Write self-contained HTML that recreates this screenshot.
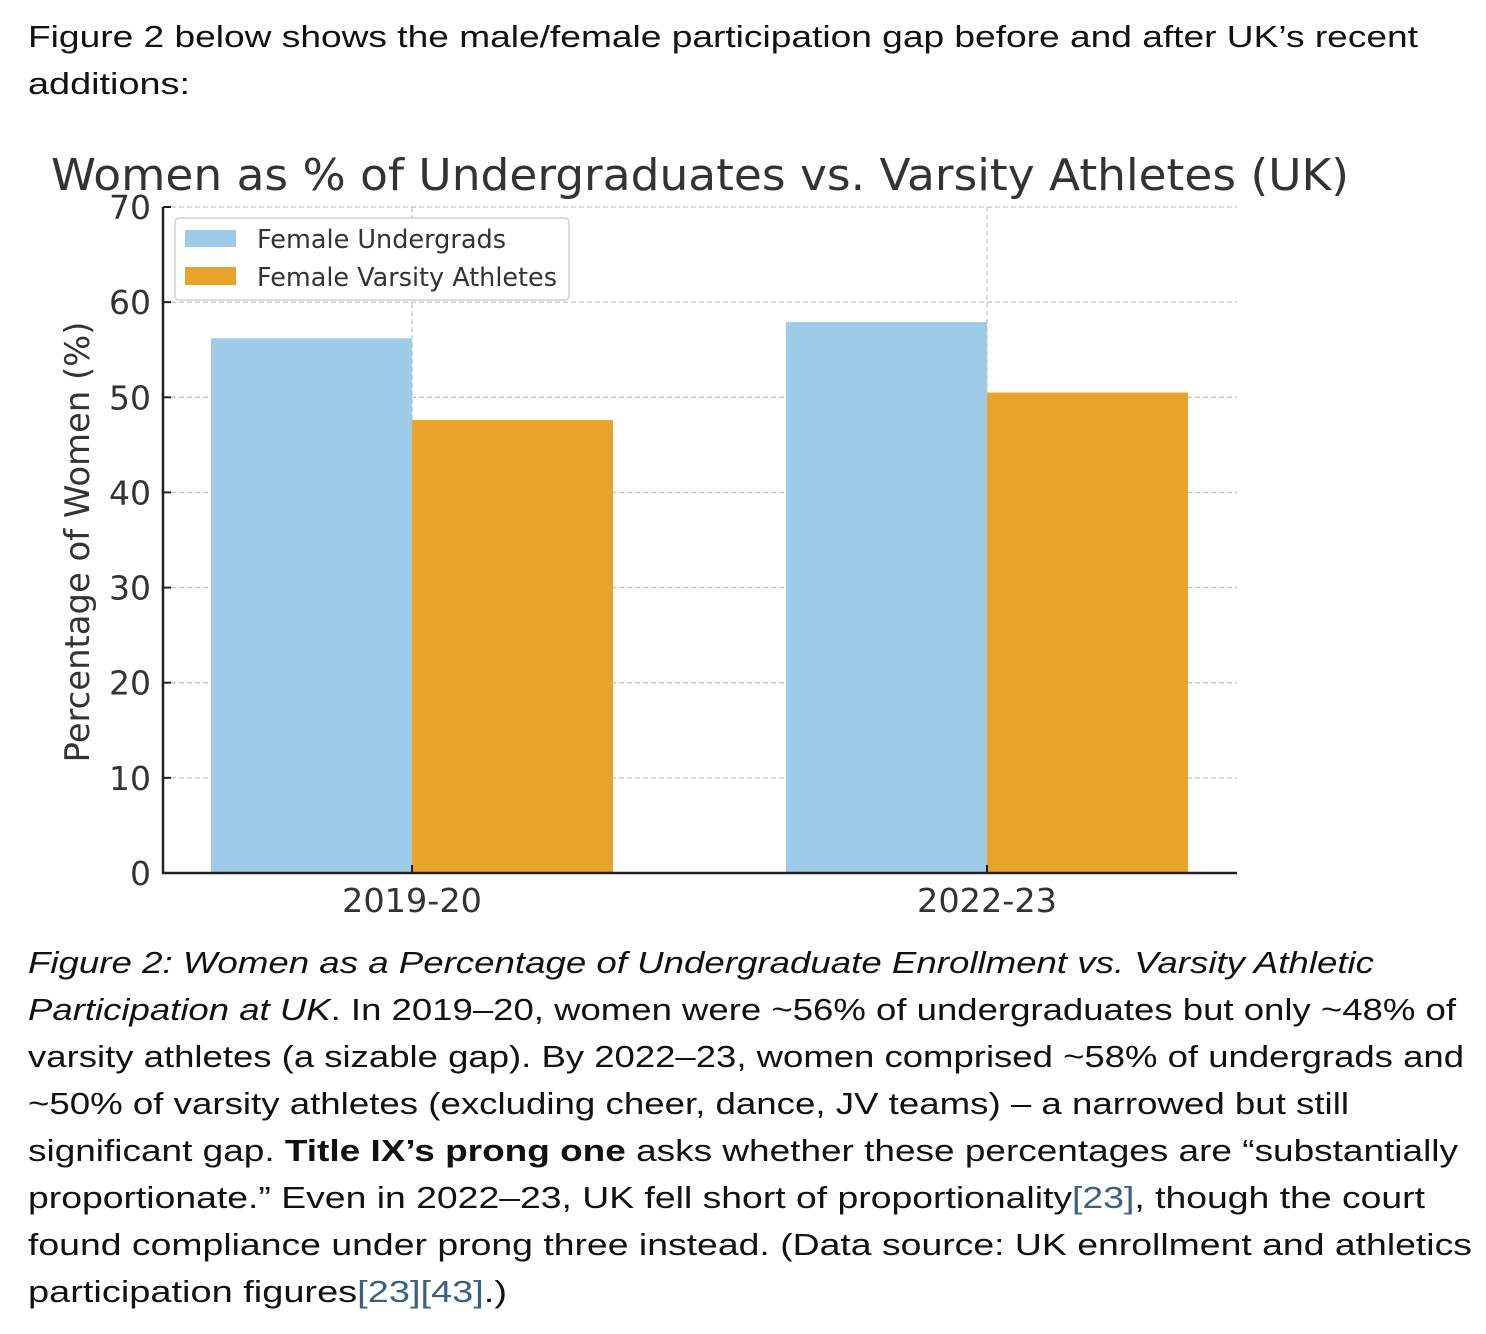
<!DOCTYPE html>
<html><head><meta charset="utf-8"><style>
html,body{margin:0;padding:0;background:#fff;}
svg{display:block;}
.p{font-family:"Liberation Sans",sans-serif;font-size:31px;fill:#111;}
.c{font-family:"DejaVu Sans",sans-serif;fill:#333;}
.lk{fill:#3c5f82;}
</style></head><body>
<svg id="s" width="1486" height="1334" xmlns="http://www.w3.org/2000/svg">
<text class="p" x="28" y="47" textLength="1390" lengthAdjust="spacingAndGlyphs">Figure 2 below shows the male/female participation gap before and after UK’s recent</text>
<text class="p" x="28" y="94" textLength="162" lengthAdjust="spacingAndGlyphs">additions:</text>

<text class="c" x="700" y="190" font-size="44" text-anchor="middle" textLength="1298" lengthAdjust="spacingAndGlyphs">Women as % of Undergraduates vs. Varsity Athletes (UK)</text>
<g id="grid"></g>
<g id="bars"></g>
<g id="axes"></g>
<text class="c" x="0" y="0" font-size="34" text-anchor="middle" transform="translate(89,542) rotate(-90)" textLength="441" lengthAdjust="spacingAndGlyphs">Percentage of Women (%)</text>

<g>
<rect x="175" y="218" width="394" height="82" rx="4" fill="#fff" fill-opacity="0.85" stroke="#d0d0d0" stroke-width="1.5"/>
<rect x="185" y="230" width="51" height="17" fill="#9ecbe8"/>
<text class="c" x="257" y="248" font-size="25.5" textLength="249" lengthAdjust="spacingAndGlyphs">Female Undergrads</text>
<rect x="185" y="267" width="51" height="18" fill="#e8a32a"/>
<text class="c" x="257" y="286" font-size="25.5" textLength="300" lengthAdjust="spacingAndGlyphs">Female Varsity Athletes</text>
</g>

<g>
<text class="p" x="28" y="973" font-style="italic" textLength="1346" lengthAdjust="spacingAndGlyphs">Figure 2: Women as a Percentage of Undergraduate Enrollment vs. Varsity Athletic</text>
<text class="p" x="28" y="1020" textLength="1428" lengthAdjust="spacingAndGlyphs"><tspan font-style="italic">Participation at UK</tspan>. In 2019–20, women were ~56% of undergraduates but only ~48% of</text>
<text class="p" x="28" y="1067" textLength="1436" lengthAdjust="spacingAndGlyphs">varsity athletes (a sizable gap). By 2022–23, women comprised ~58% of undergrads and</text>
<text class="p" x="28" y="1114" textLength="1321" lengthAdjust="spacingAndGlyphs">~50% of varsity athletes (excluding cheer, dance, JV teams) – a narrowed but still</text>
<text class="p" x="28" y="1161" textLength="1430" lengthAdjust="spacingAndGlyphs">significant gap. <tspan font-weight="bold">Title IX’s prong one</tspan> asks whether these percentages are “substantially</text>
<text class="p" x="28" y="1208" textLength="1397" lengthAdjust="spacingAndGlyphs">proportionate.” Even in 2022–23, UK fell short of proportionality<tspan class="lk">[23]</tspan>, though the court</text>
<text class="p" x="28" y="1255" textLength="1444" lengthAdjust="spacingAndGlyphs">found compliance under prong three instead. (Data source: UK enrollment and athletics</text>
<text class="p" x="28" y="1302" textLength="479" lengthAdjust="spacingAndGlyphs">participation figures<tspan class="lk">[23][43]</tspan>.)</text>
</g>
</svg>
<script>
const categories = ["2019-20", "2022-23"];
const undergrads = [56.2, 57.9];
const athletes = [47.6, 50.5];
const yTicks = [0, 10, 20, 30, 40, 50, 60, 70];

const NS = "http://www.w3.org/2000/svg";
const X0 = 163, X1 = 1237, Y0 = 873, Y70 = 207;
const y = v => Y0 - (v / 70) * (Y0 - Y70);
const cx = i => 412 + i * 575;
const bw = 201;
function mk(tag, attrs, parent) {
  const e = document.createElementNS(NS, tag);
  for (const k in attrs) e.setAttribute(k, attrs[k]);
  parent.appendChild(e);
  return e;
}
const grid = document.getElementById('grid'), bars = document.getElementById('bars'), axes = document.getElementById('axes');
yTicks.forEach(t => {
  if (t > 0) {
    const l = mk('line', {x1: X0, x2: X1, y1: y(t), y2: y(t), stroke: '#c4c4c4', 'stroke-width': 1.3, 'stroke-dasharray': '5,3'}, grid);
    
    
  }
  const tk = mk('line', {x1: X0, x2: X0 + 8, y1: y(t), y2: y(t), stroke: '#222', 'stroke-width': 2}, axes);
  
  
  const tx = mk('text', {x: 151, y: y(t) + 12, 'font-size': 33, 'text-anchor': 'end', class: 'c'}, axes);
  tx.textContent = t;
  
  
});
categories.forEach((c, i) => {
  const g = mk('line', {x1: cx(i), x2: cx(i), y1: Y70, y2: Y0, stroke: '#c4c4c4', 'stroke-width': 1.3, 'stroke-dasharray': '5,3'}, grid);
  
  
  const b1 = mk('rect', {x: cx(i) - bw, y: y(undergrads[i]), width: bw, height: Y0 - y(undergrads[i]), fill: '#9ecbe8'}, bars);
  
  
  const b2 = mk('rect', {x: cx(i), y: y(athletes[i]), width: bw, height: Y0 - y(athletes[i]), fill: '#e8a32a'}, bars);
  
  
  const tk = mk('line', {x1: cx(i), x2: cx(i), y1: Y0, y2: Y0 - 8, stroke: '#222', 'stroke-width': 2}, axes);
  
  
  const tx = mk('text', {x: cx(i), y: 912, 'font-size': 33, 'text-anchor': 'middle', textLength: 140, lengthAdjust: 'spacingAndGlyphs', class: 'c'}, axes);
  tx.textContent = c;
  
  
});
const ya = mk('line', {x1: X0, x2: X0, y1: Y70, y2: Y0 + 1, stroke: '#222', 'stroke-width': 2.5}, axes);


const xa = mk('line', {x1: X0 - 1, x2: X1, y1: Y0, y2: Y0, stroke: '#222', 'stroke-width': 2.5}, axes);


</script>
</body></html>
